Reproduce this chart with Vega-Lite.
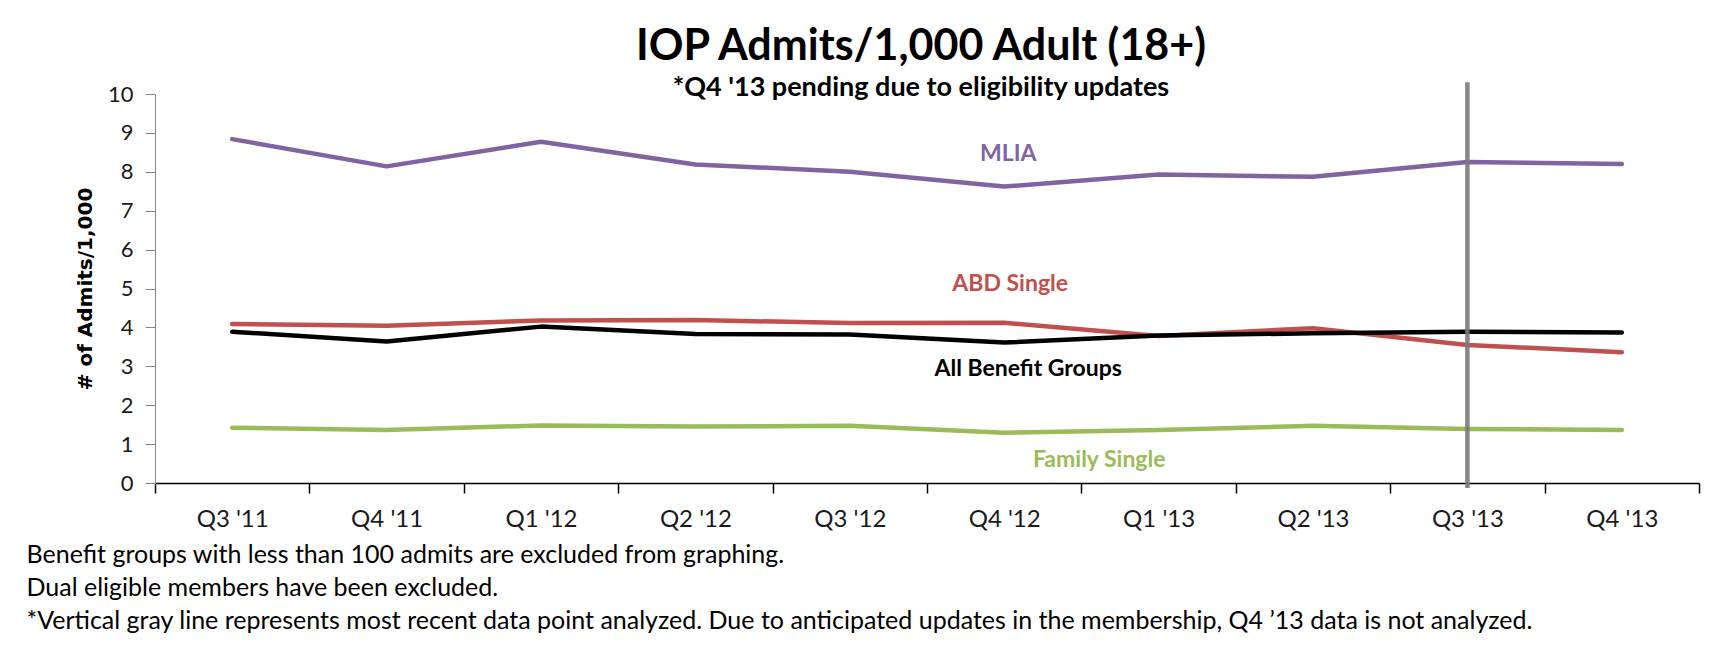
{
  "$schema": "https://vega.github.io/schema/vega-lite/v6.json",
  "width": 1544,
  "height": 389,
  "autosize": {"type": "none"},
  "padding": {"left": 155, "top": 94, "right": 22, "bottom": 175},
  "background": "white",
  "config": {"view": {"stroke": null}, "font": "Lato"},
  "title": {
    "text": "IOP Admits/1,000 Adult (18+)",
    "subtitle": "*Q4 '13 pending due to eligibility updates",
    "font": "Lato",
    "fontSize": 43,
    "fontWeight": "bold",
    "color": "#000000",
    "subtitleFont": "Lato",
    "subtitleFontSize": 27,
    "subtitleFontWeight": "bold",
    "subtitleColor": "#000000",
    "subtitlePadding": 6,
    "anchor": "middle",
    "offset": -21,
    "dx": -6
  },
  "datasets": {
    "rates": [
      {"quarter": "Q3 '11", "series": "MLIA", "value": 8.84},
      {"quarter": "Q4 '11", "series": "MLIA", "value": 8.14},
      {"quarter": "Q1 '12", "series": "MLIA", "value": 8.77},
      {"quarter": "Q2 '12", "series": "MLIA", "value": 8.19},
      {"quarter": "Q3 '12", "series": "MLIA", "value": 8.0},
      {"quarter": "Q4 '12", "series": "MLIA", "value": 7.62},
      {"quarter": "Q1 '13", "series": "MLIA", "value": 7.93},
      {"quarter": "Q2 '13", "series": "MLIA", "value": 7.87},
      {"quarter": "Q3 '13", "series": "MLIA", "value": 8.25},
      {"quarter": "Q4 '13", "series": "MLIA", "value": 8.2},
      {"quarter": "Q3 '11", "series": "ABD Single", "value": 4.09},
      {"quarter": "Q4 '11", "series": "ABD Single", "value": 4.04},
      {"quarter": "Q1 '12", "series": "ABD Single", "value": 4.18},
      {"quarter": "Q2 '12", "series": "ABD Single", "value": 4.19},
      {"quarter": "Q3 '12", "series": "ABD Single", "value": 4.11},
      {"quarter": "Q4 '12", "series": "ABD Single", "value": 4.12},
      {"quarter": "Q1 '13", "series": "ABD Single", "value": 3.78},
      {"quarter": "Q2 '13", "series": "ABD Single", "value": 3.98},
      {"quarter": "Q3 '13", "series": "ABD Single", "value": 3.55},
      {"quarter": "Q4 '13", "series": "ABD Single", "value": 3.36},
      {"quarter": "Q3 '11", "series": "All Benefit Groups", "value": 3.89},
      {"quarter": "Q4 '11", "series": "All Benefit Groups", "value": 3.64},
      {"quarter": "Q1 '12", "series": "All Benefit Groups", "value": 4.02},
      {"quarter": "Q2 '12", "series": "All Benefit Groups", "value": 3.83},
      {"quarter": "Q3 '12", "series": "All Benefit Groups", "value": 3.82},
      {"quarter": "Q4 '12", "series": "All Benefit Groups", "value": 3.61},
      {"quarter": "Q1 '13", "series": "All Benefit Groups", "value": 3.79},
      {"quarter": "Q2 '13", "series": "All Benefit Groups", "value": 3.85},
      {"quarter": "Q3 '13", "series": "All Benefit Groups", "value": 3.89},
      {"quarter": "Q4 '13", "series": "All Benefit Groups", "value": 3.87},
      {"quarter": "Q3 '11", "series": "Family Single", "value": 1.42},
      {"quarter": "Q4 '11", "series": "Family Single", "value": 1.36},
      {"quarter": "Q1 '12", "series": "Family Single", "value": 1.48},
      {"quarter": "Q2 '12", "series": "Family Single", "value": 1.45},
      {"quarter": "Q3 '12", "series": "Family Single", "value": 1.47},
      {"quarter": "Q4 '12", "series": "Family Single", "value": 1.29},
      {"quarter": "Q1 '13", "series": "Family Single", "value": 1.36},
      {"quarter": "Q2 '13", "series": "Family Single", "value": 1.47},
      {"quarter": "Q3 '13", "series": "Family Single", "value": 1.39},
      {"quarter": "Q4 '13", "series": "Family Single", "value": 1.36}
    ],
    "labels": [
      {"label": "MLIA", "quarter": "Q4 '12", "value": 8.47},
      {"label": "ABD Single", "quarter": "Q4 '12", "value": 5.12},
      {"label": "All Benefit Groups", "quarter": "Q4 '12", "value": 2.93},
      {"label": "Family Single", "quarter": "Q4 '12", "value": 0.59}
    ],
    "marker": [
      {"quarter": "Q3 '13", "value": 10.3, "bottom": -0.13}
    ]
  },
  "encoding": {
    "x": {
      "field": "quarter",
      "type": "ordinal",
      "sort": ["Q3 '11", "Q4 '11", "Q1 '12", "Q2 '12", "Q3 '12", "Q4 '12", "Q1 '13", "Q2 '13", "Q3 '13", "Q4 '13"],
      "scale": {"type": "band", "paddingInner": 0, "paddingOuter": 0},
      "axis": {
        "title": [
          "Benefit groups with  less than 100 admits are excluded from graphing.",
          "Dual eligible members have been excluded.",
          "*Vertical gray line represents most recent data point analyzed. Due to anticipated updates in the membership, Q4 ’13 data is not analyzed."
        ],
        "titleAnchor": "start",
        "titleAlign": "left",
        "titleX": -129,
        "titleY": 79,
        "titleBaseline": "alphabetic",
        "titleFont": "Lato",
        "titleFontSize": 25,
        "titleFontWeight": "normal",
        "titleColor": "#000000",
        "titleLineHeight": 33,
        "labelAngle": 0,
        "labelFont": "Lato",
        "labelFontSize": 24,
        "labelColor": "#1a1a1a",
        "labelPadding": 14,
        "tickBand": "extent",
        "tickSize": 10,
        "tickColor": "#000000",
        "tickWidth": 1.5,
        "domainColor": "#000000",
        "domainWidth": 1.5,
        "grid": false
      }
    },
    "y": {
      "field": "value",
      "type": "quantitative",
      "scale": {"domain": [0, 10], "nice": false},
      "axis": {
        "title": "# of Admits/1,000",
        "titleFont": "DejaVu Sans",
        "titleFontSize": 20,
        "titleFontWeight": "bold",
        "titleColor": "#000000",
        "titlePadding": 12,
        "values": [0, 1, 2, 3, 4, 5, 6, 7, 8, 9, 10],
        "labelFont": "Lato",
        "labelFontSize": 22,
        "labelColor": "#1a1a1a",
        "labelPadding": 12,
        "tickSize": 10,
        "tickColor": "#868686",
        "domainColor": "#868686",
        "grid": false
      }
    }
  },
  "layer": [
    {
      "data": {"name": "rates"},
      "mark": {"type": "line", "strokeWidth": 4.5, "strokeCap": "round", "strokeJoin": "round"},
      "encoding": {
        "color": {
          "field": "series",
          "type": "nominal",
          "scale": {
            "domain": ["ABD Single", "All Benefit Groups", "Family Single", "MLIA"],
            "range": ["#C0504D", "#000000", "#9BBB59", "#8064A2"]
          },
          "legend": null
        }
      }
    },
    {
      "data": {"name": "marker"},
      "mark": {"type": "rule", "color": "#7A7A7A", "strokeWidth": 4.5, "opacity": 0.9},
      "encoding": {
        "y2": {"field": "bottom"}
      }
    },
    {
      "data": {"name": "labels"},
      "transform": [{"filter": "datum.label === 'MLIA'"}],
      "mark": {"type": "text", "font": "Lato", "fontSize": 23, "fontWeight": "bold", "color": "#8064A2", "baseline": "middle", "align": "center", "dx": 4},
      "encoding": {"text": {"field": "label"}}
    },
    {
      "data": {"name": "labels"},
      "transform": [{"filter": "datum.label === 'ABD Single'"}],
      "mark": {"type": "text", "font": "Lato", "fontSize": 23, "fontWeight": "bold", "color": "#C0504D", "baseline": "middle", "align": "center", "dx": 6},
      "encoding": {"text": {"field": "label"}}
    },
    {
      "data": {"name": "labels"},
      "transform": [{"filter": "datum.label === 'All Benefit Groups'"}],
      "mark": {"type": "text", "font": "Lato", "fontSize": 23, "fontWeight": "bold", "color": "#000000", "baseline": "middle", "align": "center", "dx": 24},
      "encoding": {"text": {"field": "label"}}
    },
    {
      "data": {"name": "labels"},
      "transform": [{"filter": "datum.label === 'Family Single'"}],
      "mark": {"type": "text", "font": "Lato", "fontSize": 23, "fontWeight": "bold", "color": "#9BBB59", "baseline": "middle", "align": "center", "dx": 95},
      "encoding": {"text": {"field": "label"}}
    }
  ]
}
